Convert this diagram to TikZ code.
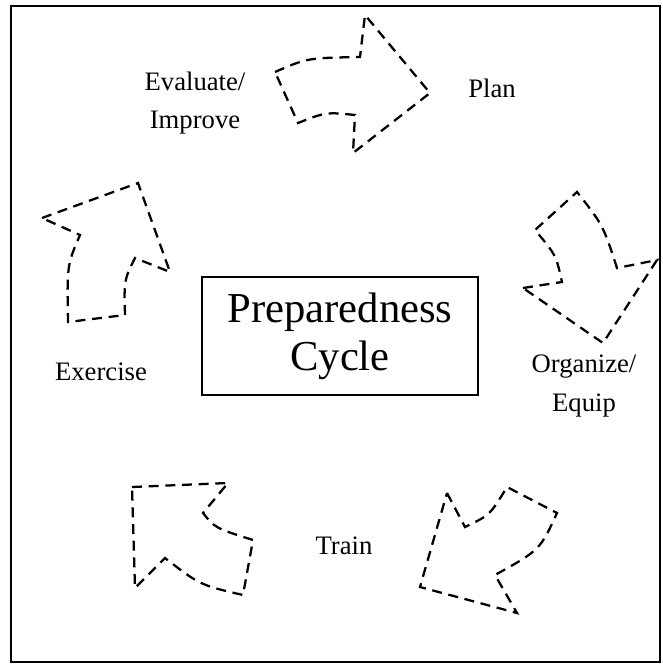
\documentclass[tikz,border=0pt]{standalone}
\usepackage{fontspec}
\setmainfont{Liberation Serif}
\usepackage{tikz}

\tikzset{
  cyclearrow/.style={draw, line width=1.7pt, dash pattern=on 7.5pt off 5pt, line join=miter},
  stage/.style={align=center, font=\fontsize{20}{29}\selectfont},
}

\begin{document}
\begin{tikzpicture}[x=0.75pt, y=-0.75pt]
	\useasboundingbox (0,0) rectangle (663,665);
	\draw[line width=1.5pt] (11,6) rectangle (660,662);

	\node[draw, line width=1pt, inner sep=0pt, minimum width=207pt, minimum height=88.5pt,
		align=center, font=\fontsize{32}{36}\selectfont] (cycle) at (340,336) {Preparedness\\Cycle};

	\node[stage] (plan) at (492,88) {Plan};
	\node[stage] (organize) at (584,386) {Organize/\\Equip};
	\node[stage] (train) at (344,546) {Train};
	\node[stage] (exercise) at (101,372) {Exercise};
	\node[stage] (evaluate) at (195,103) {Evaluate/\\Improve};

	% arrows round the cycle
	\draw[cyclearrow] (275,72) .. controls (307,58) .. (360,57) -- (365,15) -- (430,93)
		-- (353,153) -- (355,115) .. controls (326,112) .. (298,123) -- cycle;
	\draw[cyclearrow] (523,288) -- (562,282) .. controls (556,255) .. (535,230)
		-- (577,192) .. controls (603,225) .. (617,268) -- (657,260) -- (603,343) -- cycle;
	\draw[cyclearrow] (447,493) -- (465,527) .. controls (490,515) .. (507,487)
		-- (557,513) .. controls (540,550) .. (495,575) -- (517,613) -- (420,587) -- cycle;
	\draw[cyclearrow] (132,487) -- (228,483) -- (203,513) .. controls (215,528) .. (253,540)
		-- (243,595) .. controls (200,585) .. (165,558) -- (135,588) -- cycle;
	\draw[cyclearrow] (42,218) -- (138,183) -- (170,272) -- (135,258)
		.. controls (124,280) .. (125,315) -- (68,322) .. controls (67,265) .. (80,235) -- cycle;
\end{tikzpicture}
\end{document}
